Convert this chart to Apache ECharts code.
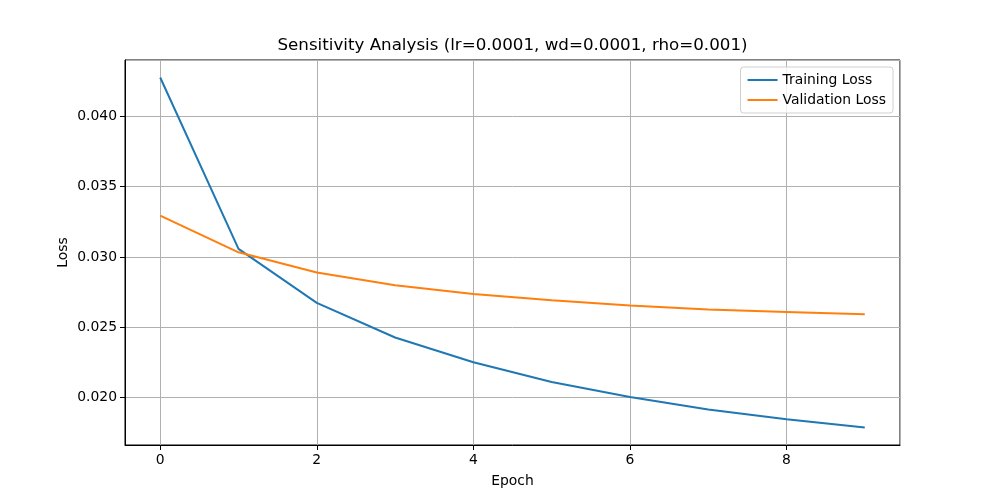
<!DOCTYPE html>
<html>
<head>
<meta charset="utf-8">
<script src="https://cdn.jsdelivr.net/npm/echarts@6/dist/echarts.min.js"></script>
<style>
	html, body { margin: 0; padding: 0; background: #fff; }
	#chart { width: 1000px; height: 500px; }
</style>
</head>
<body>
<div id="chart"></div>
<script>
var epochs = [0, 1, 2, 3, 4, 5, 6, 7, 8, 9];
var trainLoss = [0.04276, 0.03057, 0.02673, 0.02427, 0.02251, 0.02111, 0.02004, 0.01915, 0.01846, 0.01787];
var valLoss = [0.03294, 0.03033, 0.02889, 0.02799, 0.02737, 0.02692, 0.02654, 0.02626, 0.02609, 0.02592];

(function(){
	var font = "DejaVu Sans";
	var toPairs = function(xs, ys){
		var out = [];
		for(var i = 0; i < xs.length; i++){
			out.push([xs[i], ys[i]]);
		}
		return out;
	};

	var chart = echarts.init(document.getElementById("chart"), null, {renderer: "canvas"});
	chart.setOption({
		animation: false,
		backgroundColor: "#fff",
		textStyle: {fontFamily: font},
		graphic: [{
			type: "text",
			x: 512.5,
			y: 46,
			style: {
				text: "Sensitivity Analysis (lr=0.0001, wd=0.0001, rho=0.001)",
				font: "16.7px " + font,
				fill: "#000",
				textAlign: "center",
				textVerticalAlign: "middle"
			}
		}],
		grid: {
			left: 125, right: 100, top: 60, bottom: 55,
			show: true, borderColor: "#000", borderWidth: 1,
			containLabel: false
		},
		legend: {
			orient: "vertical",
			right: 107, top: 67,
			padding: [6, 7, 6, 7],
			itemGap: 6,
			itemWidth: 30, itemHeight: 2,
			backgroundColor: "rgba(255,255,255,0.8)",
			borderColor: "#d0d0d0", borderWidth: 1, borderRadius: 3,
			textStyle: {fontSize: 13.9, color: "#000", fontFamily: font},
			data: [
				{name: "Training Loss", icon: "rect"},
				{name: "Validation Loss", icon: "rect"}
			]
		},
		xAxis: {
			type: "value",
			min: -0.45, max: 9.45,
			minInterval: 2, maxInterval: 2,
			name: "Epoch", nameLocation: "middle", nameGap: 29,
			nameMoveOverlap: false,
			nameTextStyle: {fontSize: 13.9, color: "#000", fontFamily: font},
			axisLine: {show: true, onZero: false, lineStyle: {color: "#000", width: 1}},
			axisTick: {show: true, length: 5, lineStyle: {color: "#000", width: 1}},
			axisLabel: {
				color: "#000", fontSize: 13.9, margin: 8,
				showMinLabel: false, showMaxLabel: false,
				formatter: function(v){ return String(Math.round(v)); }
			},
			splitLine: {show: true, lineStyle: {color: "#b0b0b0", width: 1}}
		},
		yAxis: {
			type: "value",
			min: 0.016625, max: 0.044005,
			minInterval: 0.005, maxInterval: 0.005,
			name: "Loss", nameLocation: "middle", nameGap: 55,
			nameMoveOverlap: false,
			nameTextStyle: {fontSize: 13.9, color: "#000", fontFamily: font},
			axisLine: {show: true, onZero: false, lineStyle: {color: "#000", width: 1}},
			axisTick: {show: true, length: 5, lineStyle: {color: "#000", width: 1}},
			axisLabel: {
				color: "#000", fontSize: 13.9, margin: 8,
				showMinLabel: false, showMaxLabel: false,
				formatter: function(v){ return v.toFixed(3); }
			},
			splitLine: {show: true, lineStyle: {color: "#b0b0b0", width: 1}}
		},
		series: [
			{
				name: "Training Loss",
				type: "line",
				data: toPairs(epochs, trainLoss),
				showSymbol: false,
				itemStyle: {color: "#1f77b4"},
				lineStyle: {color: "#1f77b4", width: 2}
			},
			{
				name: "Validation Loss",
				type: "line",
				data: toPairs(epochs, valLoss),
				showSymbol: false,
				itemStyle: {color: "#ff7f0e"},
				lineStyle: {color: "#ff7f0e", width: 2}
			}
		]
	});
})();
</script>
</body>
</html>
